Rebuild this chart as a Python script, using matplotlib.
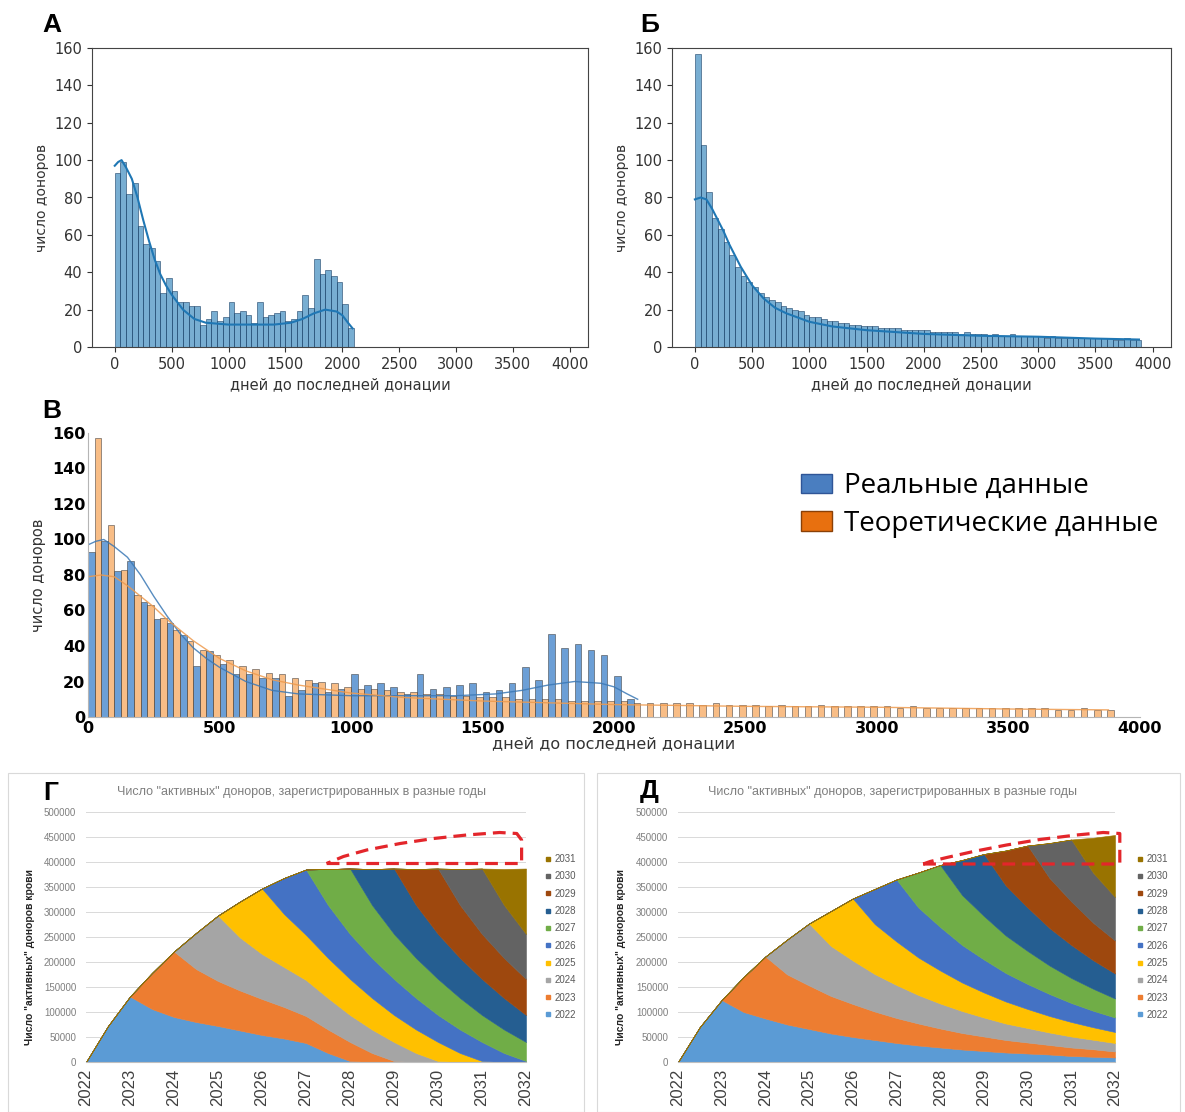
import numpy as np
import matplotlib
matplotlib.use("Agg")
import matplotlib.pyplot as plt
from matplotlib.patches import Patch, Rectangle
from matplotlib.lines import Line2D

W, H = 1185, 1112

# donors per 50-day bin of "days since last donation"
bin_width = 50
# А - real data (0..2100 days)
real_counts = [93, 99, 82, 88, 65, 55, 53, 46, 29, 37,
               30, 24, 24, 22, 22, 12, 15, 19, 14, 16,
               24, 18, 19, 17, 13, 24, 16, 17, 18, 19,
               14, 15, 19, 28, 21, 47, 39, 41, 38, 35,
               23, 10]
# Б - theoretical data (0..3900 days)
theor_counts = [157, 108, 83, 69, 63, 56, 49, 43, 38, 35,
                32, 29, 27, 25, 24, 22, 21, 20, 19, 17,
                16, 16, 15, 14, 14, 13, 13, 12, 12, 11,
                11, 11, 10, 10, 10, 10, 9, 9, 9, 9,
                9, 8, 8, 8, 8, 8, 7, 8, 7, 7,
                7, 6, 7, 6, 6, 7, 6, 6, 6, 6,
                6, 5, 6, 5, 5, 5, 5, 5, 5, 5,
                5, 5, 5, 4, 4, 5, 4, 4]
# smoothed (kde) curves as drawn on the picture
real_kde_x = [0, 30, 60, 100, 150, 200, 250, 300, 350, 400, 450, 500, 550, 600,
              700, 800, 1000, 1200, 1400, 1550, 1650, 1750, 1850, 1950, 2000,
              2050, 2090]
real_kde_y = [97, 99, 100, 96, 90, 80, 68, 57, 47, 39, 33, 28, 24, 20,
              15, 13, 12, 12, 12, 13, 15, 18, 20, 19, 17, 13, 10]
theor_kde_x = [0, 50, 100, 150, 200, 250, 300, 400, 500, 600, 700, 800, 1000,
               1200, 1500, 2000, 2500, 3000, 3500, 3880]
theor_kde_y = [79, 80, 79, 74, 68, 62, 55, 43, 33, 26, 21, 18, 13.5,
               11, 9, 7, 6, 5.5, 4.5, 4]
day_ticks = list(range(0, 4001, 500))
count_ticks = list(range(0, 161, 20))

# Г / Д - active donors by registration year, half-year grid
years = np.arange(2022, 2032.01, 0.5)
cohorts = list(range(2022, 2032))
cohort_colors = ["#5B9BD5", "#ED7D31", "#A5A5A5", "#FFC000", "#4472C4",
                 "#70AD47", "#255E91", "#9E480E", "#636363", "#997300"]
# thickness of one cohort's band (thousands) by its age in half-years
cohort_age_g = [0, 72, 131, 106, 90, 80, 72, 63, 54, 47, 38, 18, 2, 0]
cohort_age_d = [0, 70, 124, 100, 87, 75, 66, 57, 50, 44, 38, 33, 29, 25,
                22, 19, 17, 15, 12, 10.5, 9]
# red dashed outline (year, thousands)
red_g_x = [2027.47, 2031.9, 2031.9, 2031.79, 2031.4, 2030.65, 2029.9,
           2029.14, 2028.38, 2027.85, 2027.47]
red_g_y = [397, 397, 444, 457, 459, 454, 447, 437, 424, 411, 397]
red_d_x = [2027.61, 2032.11, 2032.11, 2031.73, 2031.12, 2030.28, 2029.52,
           2028.76, 2028.15, 2027.77, 2027.61]
red_d_y = [396, 396, 457, 459, 454, 445, 434, 421, 409, 401, 396]
excel_title = 'Число "активных" доноров, зарегистрированных в разные годы'
excel_ylabel = 'Число "активных" доноров крови'


def cohort_table(profile):
    table = np.zeros((len(cohorts), len(years)))
    for k in range(len(cohorts)):
        start = 2 * k
        n = min(len(profile), len(years) - start)
        table[k, start:start + n] = profile[:n]
    return table * 1000


fig = plt.figure(figsize=(W / 100, H / 100), dpi=100)


def px_axes(left, top, right, bottom):
    return fig.add_axes([left / W, 1 - bottom / H, (right - left) / W, (bottom - top) / H])


def panel_letter(x, y, s):
    fig.text(x / W, 1 - y / H, s, fontsize=19, fontweight="bold",
             family="Liberation Sans", ha="left", va="baseline")


def small_hist(ax, counts, kde_x, kde_y):
    starts = np.arange(len(counts)) * bin_width
    ax.bar(starts, counts, width=bin_width, align="edge",
           color=(0.12, 0.47, 0.71, 0.6), edgecolor=(0.1, 0.25, 0.4, 0.8), lw=0.5)
    ax.plot(kde_x, kde_y, color="#1f77b4", lw=1.5)
    ax.set_xlim(-200, 4160)
    ax.set_ylim(0, 160)
    ax.set_xticks(day_ticks)
    ax.set_yticks(count_ticks)
    ax.tick_params(labelsize=10.5, colors="#333333")
    for s in ax.spines.values():
        s.set_color("#444444")
    ax.set_xlabel("дней до последней донации", fontsize=10.5, color="#333333")
    ax.set_ylabel("число доноров", fontsize=10, color="#333333")


# --- А
ax_a = px_axes(92, 48, 588, 347)
small_hist(ax_a, real_counts, real_kde_x, real_kde_y)
panel_letter(42, 32, "А")

# --- Б
ax_b = px_axes(672, 48, 1171, 347)
small_hist(ax_b, theor_counts, theor_kde_x, theor_kde_y)
panel_letter(640, 32, "Б")

# --- В : both distributions side by side in every bin
ax_c = px_axes(88, 433, 1140, 717)
half = bin_width / 2
real_starts = np.arange(len(real_counts)) * bin_width
theor_starts = np.arange(len(theor_counts)) * bin_width + half
ax_c.bar(real_starts, real_counts, width=half, align="edge",
         color=(0.2, 0.48, 0.78, 0.72), edgecolor=(0.2, 0.2, 0.2, 0.7), lw=0.5)
ax_c.bar(theor_starts, theor_counts, width=half, align="edge",
         color=(0.96, 0.62, 0.3, 0.68), edgecolor=(0.2, 0.2, 0.2, 0.7), lw=0.5)
ax_c.plot(real_kde_x, real_kde_y, color="#3a78b5", lw=1.0, alpha=0.85)
ax_c.plot(theor_kde_x, theor_kde_y, color="#ee9a4d", lw=1.0, alpha=0.85)
ax_c.set_xlim(0, 4000)
ax_c.set_ylim(0, 160)
ax_c.set_xticks(day_ticks, [str(t) for t in day_ticks], fontsize=11.5, fontweight="bold")
ax_c.set_yticks(count_ticks, [str(t) for t in count_ticks], fontsize=11.5, fontweight="bold")
ax_c.tick_params(axis="x", length=0, pad=3)
ax_c.tick_params(axis="y", length=0, pad=2)
for side in ["top", "right"]:
    ax_c.spines[side].set_visible(False)
for side in ["left", "bottom"]:
    ax_c.spines[side].set_color("#b5b5b5")
ax_c.set_xlabel("дней до последней донации", fontsize=11.5, color="#333333", labelpad=0)
ax_c.set_ylabel("число доноров", fontsize=10.5, color="#333333")
legend_handles = [
    Patch(facecolor="#4a7ec0", edgecolor="#2f5597", label="Реальные данные"),
    Patch(facecolor="#e8700f", edgecolor="#8a4006", label="Теоретические данные"),
]
ax_c.legend(handles=legend_handles, loc="upper left", bbox_to_anchor=(0.678, 0.862),
            frameon=False, prop={"family": "Open Sans", "size": 20},
            handlelength=1.1, handleheight=0.7, handletextpad=0.45,
            labelspacing=0.35, borderpad=0, borderaxespad=0)
panel_letter(42, 418, "В")


# --- Г / Д
def cohort_panel(left, right, profile, red_x, red_y, legend_x, ylabel_x):
    ax = px_axes(left, 812, right, 1062)
    polys = ax.stackplot(years, cohort_table(profile), colors=cohort_colors, lw=0)
    for p, c in zip(polys, cohort_colors):
        p.set_edgecolor(c)
        p.set_linewidth(0.4)
    ax.plot(red_x, np.array(red_y) * 1000, color="#e3262b", lw=2.3,
            ls=(0, (4, 2.2)), clip_on=False, zorder=5)
    ax.set_xlim(2022, 2032)
    ax.set_ylim(0, 500000)
    ax.set_yticks(range(0, 500001, 50000))
    ax.set_xticks(range(2022, 2033))
    ax.yaxis.grid(True, color="#d9d9d9", lw=0.7)
    ax.set_axisbelow(True)
    for side in ["top", "right", "left"]:
        ax.spines[side].set_visible(False)
    ax.spines["bottom"].set_color("#bfbfbf")
    ax.tick_params(axis="y", length=0, pad=7, labelsize=7, labelcolor="#7f7f7f")
    ax.tick_params(axis="x", length=0, pad=5, labelsize=12, labelcolor="#404040",
                   labelrotation=90)
    for t in ax.get_xticklabels() + ax.get_yticklabels():
        t.set_family("Liberation Sans")
    ax.set_ylabel(excel_ylabel, fontsize=7.5, fontweight="bold", color="#262626",
                  family="Liberation Sans")
    ax.yaxis.set_label_coords(ylabel_x, 0.42)
    ax.text(0.49, 1.08, excel_title, transform=ax.transAxes, ha="center", va="center",
            fontsize=9, color="#7f7f7f", family="Liberation Sans")
    handles = [Line2D([], [], marker="s", ls="", color=c, markersize=3.5)
               for c in cohort_colors[::-1]]
    ax.legend(handles, [str(y) for y in cohorts[::-1]], loc="center left",
              bbox_to_anchor=(legend_x, 0.5), frameon=False,
              prop={"family": "Liberation Sans", "size": 7}, labelcolor="#595959",
              handlelength=0.8, handletextpad=0.3, labelspacing=0.75,
              borderpad=0, borderaxespad=0)
    return ax


for x0, x1 in [(8, 584), (597, 1180)]:
    fig.add_artist(Rectangle((x0 / W, 0), (x1 - x0) / W, 1 - 773 / H,
                             transform=fig.transFigure, fill=False,
                             ec="#d9d9d9", lw=0.8))

cohort_panel(86, 526, cohort_age_g, red_g_x, red_g_y, 1.041, -0.116)
panel_letter(43, 800, "Г")
cohort_panel(678, 1115, cohort_age_d, red_d_x, red_d_y, 1.048, -0.119)
panel_letter(640, 798, "Д")

fig.savefig("out.png", dpi=100)
